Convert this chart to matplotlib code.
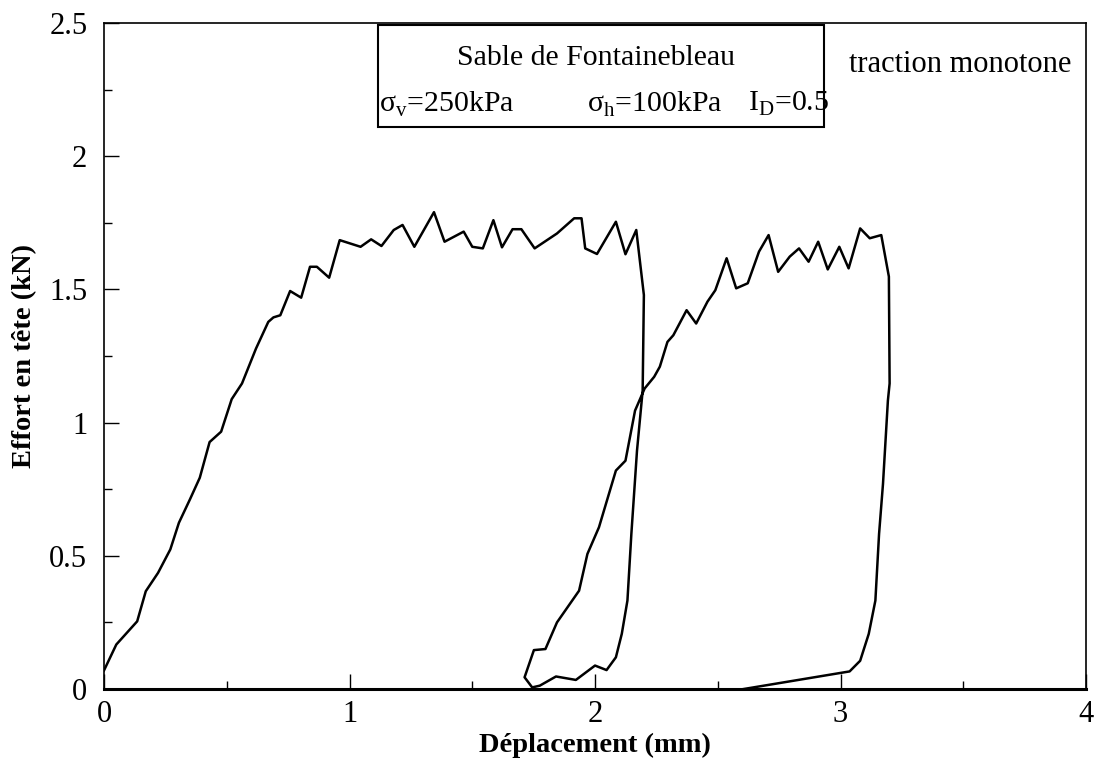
# Effort en tete vs deplacement - traction monotone
import numpy as np
import matplotlib.pyplot as plt
from matplotlib.patches import Rectangle

plt.rcParams['font.family'] = ['Liberation Serif', 'DejaVu Serif']
plt.rcParams['mathtext.fontset'] = 'custom'
plt.rcParams['mathtext.rm'] = 'Liberation Serif'

deplacement = [0.0, 0.05, 0.135, 0.17, 0.22, 0.27, 0.305, 0.35, 0.39, 0.43,
               0.477, 0.52, 0.562, 0.619, 0.669, 0.69, 0.718, 0.758, 0.803, 0.839,
               0.867, 0.917, 0.96, 1.045, 1.088, 1.13, 1.18, 1.216, 1.264, 1.344,
               1.387, 1.465, 1.5, 1.543, 1.586, 1.621, 1.664, 1.7, 1.754, 1.845,
               1.915, 1.945, 1.96, 2.008, 2.085, 2.124, 2.168, 2.199, 2.194, 2.171,
               2.148, 2.132, 2.109, 2.085, 2.047, 2.0, 1.922, 1.841, 1.775, 1.744,
               1.713, 1.751, 1.798, 1.845, 1.907, 1.935, 1.969, 2.016, 2.085, 2.124,
               2.163, 2.202, 2.241, 2.264, 2.295, 2.319, 2.373, 2.412, 2.458, 2.49,
               2.536, 2.575, 2.622, 2.668, 2.707, 2.746, 2.793, 2.831, 2.87, 2.909,
               2.948, 2.995, 3.033, 3.08, 3.119, 3.166, 3.197, 3.2, 3.193, 3.173,
               3.157, 3.142, 3.115, 3.08, 3.037, 2.606]
effort = [0.07, 0.167, 0.254, 0.367, 0.436, 0.524, 0.624, 0.712, 0.793, 0.927,
          0.966, 1.088, 1.147, 1.278, 1.378, 1.395, 1.403, 1.494, 1.469, 1.585,
          1.585, 1.544, 1.685, 1.66, 1.688, 1.663, 1.723, 1.742, 1.66, 1.79,
          1.679, 1.717, 1.66, 1.654, 1.76, 1.658, 1.726, 1.726, 1.654, 1.71,
          1.767, 1.767, 1.654, 1.633, 1.754, 1.632, 1.723, 1.479, 1.12, 0.895,
          0.582, 0.332, 0.207, 0.119, 0.071, 0.088, 0.034, 0.047, 0.0125, 0.006,
          0.044, 0.146, 0.15, 0.25, 0.332, 0.369, 0.507, 0.607, 0.82, 0.857,
          1.045, 1.128, 1.172, 1.21, 1.303, 1.328, 1.422, 1.372, 1.454, 1.497,
          1.617, 1.504, 1.523, 1.642, 1.704, 1.566, 1.623, 1.654, 1.604, 1.679,
          1.575, 1.66, 1.579, 1.729, 1.692, 1.704, 1.548, 1.147, 1.083, 0.77,
          0.582, 0.332, 0.207, 0.106, 0.066, 0.0]

fig = plt.figure(figsize=(10.94, 7.78), dpi=100)
ax = fig.add_axes([0.0951, 0.1144, 0.8976, 0.856])

ax.plot(deplacement, effort, color='black', lw=1.8)

ax.set_xlim(0, 4)
ax.set_ylim(0, 2.5)
ax.set_xticks([0, 1, 2, 3, 4])
ax.set_yticks([0, 0.5, 1, 1.5, 2, 2.5])
ax.set_yticklabels(['0', '0.5', '1', '1.5', '2', '2.5'])
ax.xaxis.set_minor_locator(plt.MultipleLocator(0.5))
ax.yaxis.set_minor_locator(plt.MultipleLocator(0.25))
ax.tick_params(which='major', direction='in', length=11, width=1, labelsize=22)
ax.tick_params(which='minor', direction='in', length=6, width=1)
ax.tick_params(axis='x', pad=8)
ax.tick_params(axis='y', pad=12)
for side in ['top', 'right', 'left']:
    ax.spines[side].set_linewidth(1.2)
ax.spines['bottom'].set_linewidth(2.2)

ax.set_xlabel('Déplacement (mm)', fontsize=20.5, fontweight='bold')
ax.set_ylabel('Effort en tête (kN)', fontsize=20.5, fontweight='bold')
ax.xaxis.set_label_coords(0.5, -0.066)
ax.yaxis.set_label_coords(-0.068, 0.5)

# Test conditions box
ax.add_patch(Rectangle((1.117, 2.110), 1.814, 0.382, fill=False,
                       edgecolor='black', lw=1.5))
ax.text(2.004, 2.37, 'Sable de Fontainebleau', fontsize=21.5,
        ha='center', va='center')
ax.text(1.12, 2.195, r'σ$_{\rm v}$=250kPa', fontsize=21.5, ha='left', va='center')
ax.text(1.967, 2.195, r'σ$_{\rm h}$=100kPa', fontsize=21.5, ha='left', va='center')
ax.text(2.622, 2.195, r'I$_{\rm D}$=0.5', fontsize=21.5, ha='left', va='center')
ax.text(3.033, 2.343, 'traction monotone', fontsize=22, ha='left', va='center')

plt.savefig('out.png')
